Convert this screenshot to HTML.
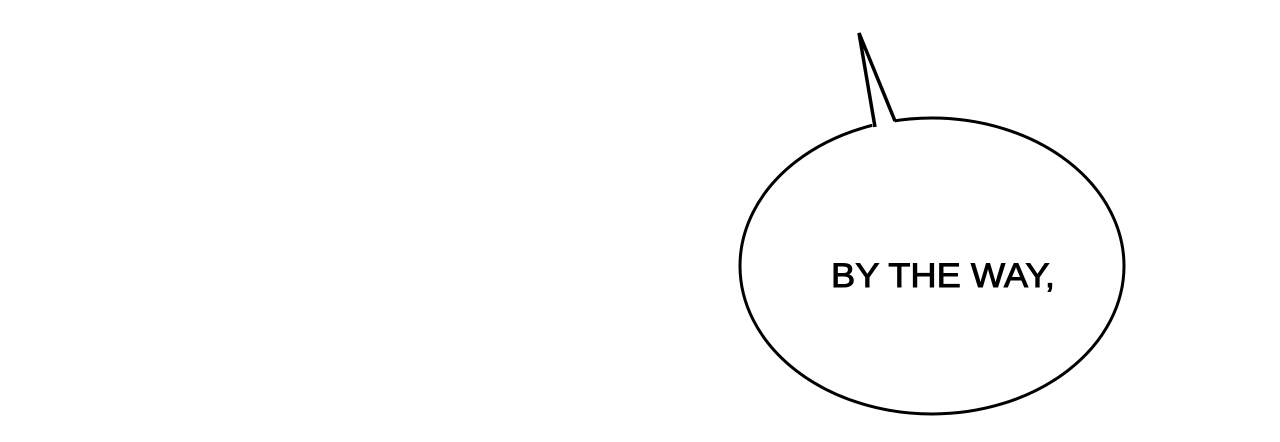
<!DOCTYPE html>
<html><head><style>html,body{margin:0;padding:0;background:#fff;width:1280px;height:442px;overflow:hidden}</style></head>
<body>
<svg width="1280" height="442" viewBox="0 0 1280 442" xmlns="http://www.w3.org/2000/svg">
<ellipse cx="932" cy="266" rx="192" ry="148" fill="#fff" stroke="#000" stroke-width="3"/>
<polygon points="873,130 859,34 896,125" fill="#fff" stroke="none"/>
<polyline points="875,127 859,33 895,121" fill="none" stroke="#000" stroke-width="3.5" stroke-linejoin="miter"/>
<text x="831" y="287" font-family="Liberation Sans, sans-serif" font-weight="normal" font-size="34" textLength="224" lengthAdjust="spacingAndGlyphs" fill="#000" stroke="#000" stroke-width="0.9">BY THE WAY,</text>
</svg>
</body></html>
